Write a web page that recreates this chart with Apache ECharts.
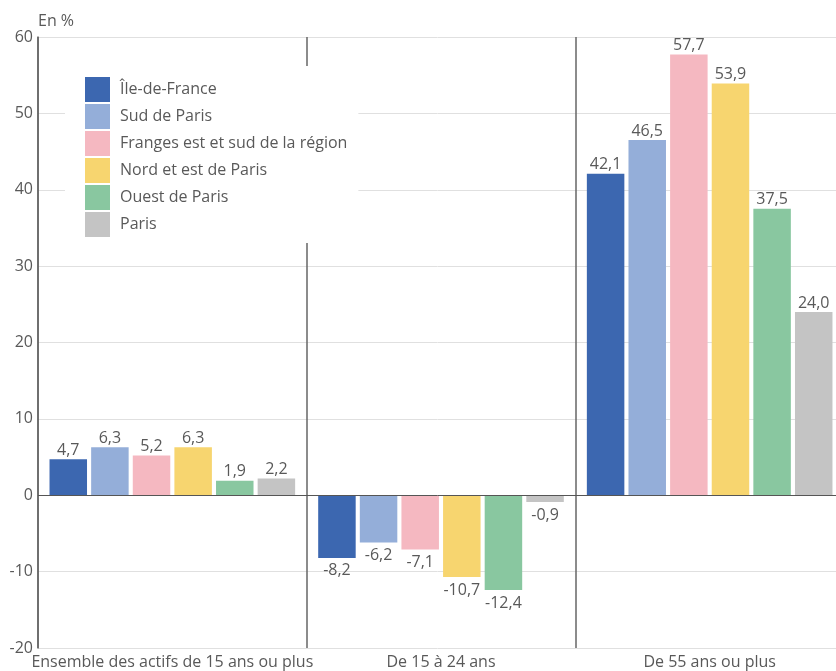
<!DOCTYPE html>
<html>
<head>
<meta charset="utf-8">
<script src="https://cdn.jsdelivr.net/npm/echarts@6/dist/echarts.min.js"></script>
<style>
  html, body { margin: 0; padding: 0; background: #fff; }
  #chart { width: 836px; height: 671px; }
</style>
</head>
<body>
<div id="chart"></div>
<script>
// catégories d'âge
var categories = ["Ensemble des actifs de 15 ans ou plus", "De 15 à 24 ans", "De 55 ans ou plus"];

// une série par territoire
var seriesNames = ["Île-de-France", "Sud de Paris", "Franges est et sud de la région", "Nord et est de Paris", "Ouest de Paris", "Paris"];
var seriesColors = ["#3c67b0", "#94aed9", "#f5b8c1", "#f7d56f", "#89c7a0", "#c4c4c4"];

var ileDeFrance = [4.7, -8.2, 42.1];
var sudParis = [6.3, -6.2, 46.5];
var franges = [5.2, -7.1, 57.7];
var nordEst = [6.3, -10.7, 53.9];
var ouestParis = [1.9, -12.4, 37.5];
var paris = [2.2, -0.9, 24.0];

var allValues = [ileDeFrance, sudParis, franges, nordEst, ouestParis, paris];

var textColor = "#595959";
var font = "'Open Sans', 'Noto Sans', sans-serif";
var fontSize = 16;

var chart = echarts.init(document.getElementById("chart"));

var series = seriesNames.map(function(name, i) {
  var s = {
    name: name,
    type: "bar",
    barWidth: 37.5,
    barGap: "11%",
    itemStyle: { color: seriesColors[i] },
    label: {
      show: true,
      position: "top",
      distance: 1,
      color: textColor,
      fontSize: fontSize,
      fontFamily: font,
      formatter: function(p) {
        return p.value.toFixed(1).replace(".", ",");
      }
    },
    data: allValues[i].map(function(v) {
      // étiquettes sous la barre pour les valeurs négatives
      return v < 0 ? { value: v, label: { position: "bottom", distance: 5 } } : v;
    })
  };
  if (i === 0) {
    s.markLine = {
      silent: true,
      symbol: "none",
      label: { show: false },
      lineStyle: { color: "#555", type: "solid", width: 1 },
      data: [{ yAxis: 0 }]
    };
  }
  return s;
});

var option = {
  animation: false,
  textStyle: { fontFamily: font },
  grid: { left: 38, width: 806, top: 37, bottom: 23, outerBoundsMode: "none" },
  legend: {
    orient: "vertical",
    left: 65,
    top: 66,
    padding: [11, 11, 6, 20],
    backgroundColor: "#fff",
    itemWidth: 25,
    itemHeight: 25,
    itemGap: 2,
    icon: "rect",
    textStyle: { color: textColor, fontSize: fontSize, fontFamily: font, padding: [0, 0, 0, 5] },
    data: seriesNames
  },
  xAxis: {
    type: "category",
    data: categories,
    axisLine: { show: false, onZero: false },
    axisTick: { show: false },
    axisLabel: { color: textColor, fontSize: fontSize, fontFamily: font, margin: 6, interval: 0 },
    splitLine: { show: true, interval: 0, lineStyle: { color: "#666", width: 1.5 } }
  },
  yAxis: {
    type: "value",
    min: -20,
    max: 60,
    interval: 10,
    name: "En %",
    nameLocation: "end",
    nameGap: 8,
    nameTextStyle: { color: textColor, fontSize: fontSize, fontFamily: font, align: "left", padding: [0, 0, 0, 0] },
    axisLine: { show: true, lineStyle: { color: "#666", width: 1.5 } },
    axisTick: { show: false },
    axisLabel: { color: textColor, fontSize: fontSize, fontFamily: font, margin: 5 },
    splitLine: { show: true, lineStyle: { color: "#e0e0e0", width: 1 } }
  },
  series: series
};

chart.setOption(option);
</script>
</body>
</html>
